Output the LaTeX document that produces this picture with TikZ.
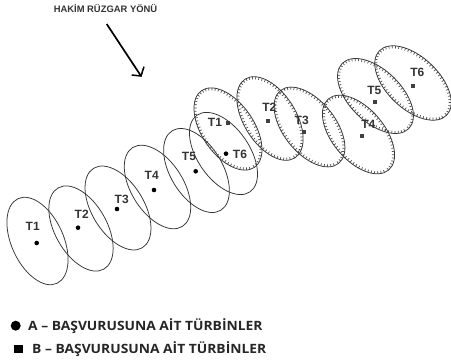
\documentclass[tikz,border=0pt]{standalone}
\usepackage{fontspec}
\setmainfont{Liberation Sans}
\newfontfamily\legendfont[FakeStretch=1.08]{Open Sans}
\usetikzlibrary{decorations.pathreplacing,arrows.meta}
\tikzset{
  wake/.style={draw=black!80,line width=0.75pt},
  hatched/.style={draw=black!80,line width=0.75pt,postaction={decorate,draw=black!70,line width=0.7pt,
     decoration={border,segment length=3.4pt,amplitude=2.6pt,angle=90}}},
  tlabel/.style={font=\bfseries\fontsize{12}{13}\selectfont,text=black!80,inner sep=0pt},
  dotA/.style={circle,fill=black,inner sep=0pt,minimum size=4.6pt},
  sqB/.style={rectangle,fill=black!75,inner sep=0pt,minimum size=4pt},
  legendtext/.style={font=\legendfont\bfseries\fontsize{12.8}{14}\selectfont,text=black!85,inner sep=0pt,anchor=west},
}
\newcommand{\wakeat}[4]{\draw[#1,shift={(#2)},rotate=-#3] (0,0) ellipse [x radius=46.6pt,y radius=#4pt];}
\begin{document}
\begin{tikzpicture}[x=1pt,y=-1pt]
\useasboundingbox (0,0) rectangle (451,363);
% A ellipses
\wakeat{wake}{37.5,241}{65.4}{26}
\wakeat{wake}{81,228.5}{60.7}{26}
\wakeat{wake}{118,208}{58.4}{26}
\wakeat{wake}{157.5,187}{57.7}{26}
\wakeat{wake}{196.5,170.5}{58.6}{26}
\wakeat{wake}{223.5,153.5}{55.4}{26}
% B ellipses
\wakeat{hatched}{228,129}{55.5}{26}
\wakeat{hatched}{270,118.5}{57.9}{26}
\wakeat{hatched}{309.5,127}{51.5}{26}
\wakeat{hatched}{358.5,134.5}{49.7}{26}
\wakeat{hatched}{375.5,96}{44.3}{26}
\wakeat{hatched}{413,83}{43.5}{26}
% A turbines
\node[dotA] (a1) at (36.7,243) {};
\node[dotA] (a2) at (78,227.7) {};
\node[dotA] (a3) at (117,209) {};
\node[dotA] (a4) at (154,190) {};
\node[dotA] (a5) at (195.7,171.3) {};
\node[dotA] (a6) at (226,153.7) {};
\node[tlabel] (la1) at (32.7,226) {T1};
\node[tlabel] (la2) at (81.7,214) {T2};
\node[tlabel] (la3) at (121.7,199) {T3};
\node[tlabel] (la4) at (151.7,175) {T4};
\node[tlabel] (la5) at (189,156.7) {T5};
\node[tlabel] (la6) at (240,154) {T6};
% B turbines
\node[sqB] (b1) at (227.7,123) {};
\node[sqB] (b2) at (268,120.7) {};
\node[sqB] (b3) at (304.3,132.3) {};
\node[sqB] (b4) at (362,136.3) {};
\node[sqB] (b5) at (375,102) {};
\node[sqB] (b6) at (413,86) {};
\node[tlabel] (lb1) at (215,122.7) {T1};
\node[tlabel] (lb2) at (269.3,107.7) {T2};
\node[tlabel] (lb3) at (301.7,120.7) {T3};
\node[tlabel] (lb4) at (368.3,124) {T4};
\node[tlabel] (lb5) at (374.3,90.7) {T5};
\node[tlabel] (lb6) at (417.3,72.7) {T6};
% wind
\node[font=\bfseries\fontsize{9.4}{10}\selectfont,text=black!80,inner sep=0pt] (wind) at (105.5,8.7) {HAKİM RÜZGAR YÖNÜ};
\coordinate (w1) at (106.7,24);
\coordinate (w2) at (141,76);
\draw[line width=1.7pt,black] (w1) -- (w2);
\draw[line width=1.5pt,black] (131.7,75) -- (w2) -- (144,66.7);
% legend
\node[dotA,minimum size=10pt] (kA) at (15.7,325.7) {};
\node[legendtext] (tA) at (28,325.7) {A – BAŞVURUSUNA AİT TÜRBİNLER};
\node[rectangle,fill=black,inner sep=0pt,minimum size=8.5pt] (kB) at (18.3,349) {};
\node[legendtext] (tB) at (32,349) {B – BAŞVURUSUNA AİT TÜRBİNLER};
\end{tikzpicture}
\end{document}
